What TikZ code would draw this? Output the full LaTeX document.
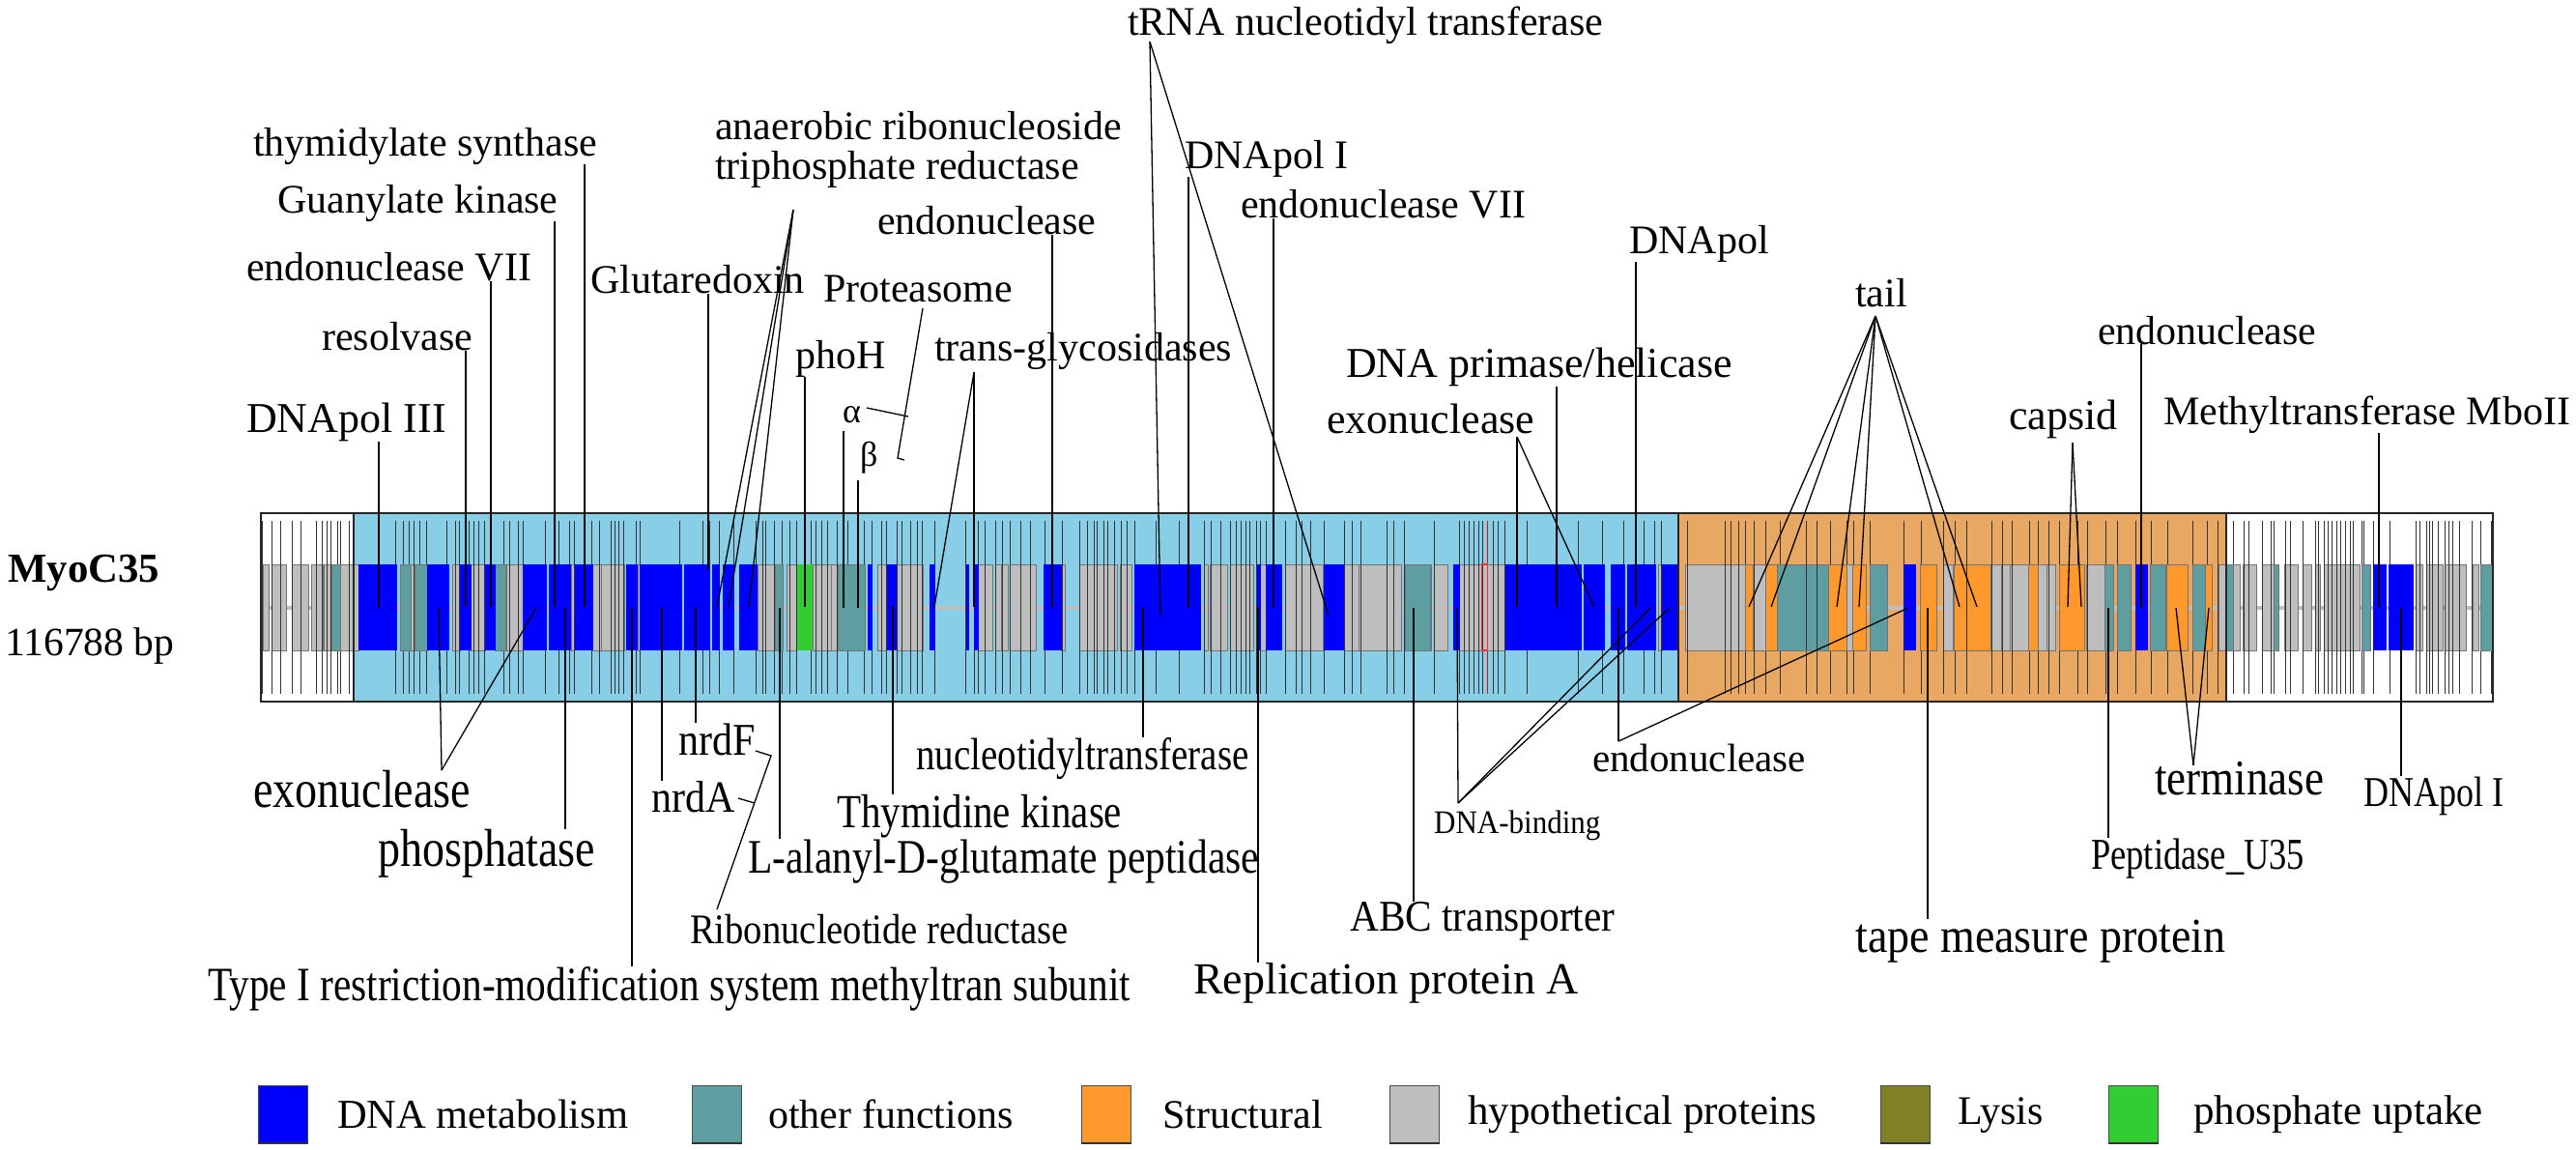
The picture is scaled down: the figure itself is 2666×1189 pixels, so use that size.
\documentclass[tikz,border=0pt]{standalone}
\usepackage{fontspec}
\setmainfont{Liberation Serif}
\definecolor{dnablue}{RGB}{0,0,255}
\definecolor{otherteal}{RGB}{95,158,160}
\definecolor{structorange}{RGB}{255,153,46}
\definecolor{hypogray}{RGB}{190,190,190}
\definecolor{lysisolive}{RGB}{128,128,40}
\definecolor{phosgreen}{RGB}{50,205,50}
\definecolor{earlysky}{RGB}{135,206,230}
\definecolor{lateorange}{RGB}{232,168,100}
\tikzset{
  lab/.style={inner sep=0pt,anchor=base west,font=\fontsize{42}{42}\selectfont},
  leader/.style={black,line width=1.3pt},
  tick/.style={black!80,line width=1pt},
  gene/.style={draw=black!55,line width=0.8pt},
  swatch/.style={draw=black!70,line width=0.8pt,minimum width=51pt,minimum height=59pt,inner sep=0pt,anchor=north west}
}
% #1 name, #2 x, #3 y of the free end
\newcommand{\vlead}[3]{\coordinate (#1end) at (#2,#3); \draw[leader] (#1.south -| #1end) -- (#1end);}
\newcommand{\vleadup}[3]{\coordinate (#1end) at (#2,#3); \draw[leader] (#1.north -| #1end) -- (#1end);}
\newcommand{\tallbox}[2]{\scalebox{1}[#1]{#2}}
\begin{document}
\begin{tikzpicture}[x=1pt,y=-1pt]
\useasboundingbox (0,0) rectangle (2666,1189);
% regions
\fill[earlysky] (366,531) rectangle (1737,726);
\fill[lateorange] (1737,531) rectangle (2304,726);
\fill[hypogray] (270,627) rectangle (2580,631);
% blocks, first stretch
\begin{scope}[xshift=240pt,x=0.3954pt]
  \foreach \a/\b in {82/96,105/143,157/202,208/238,242/262,284/332,440/468,468/480,578/597,626/663,718/762,888/897,945/966,966/1027,1062/1068,1376/1422,1453/1479,1522/1568}
    \fill[hypogray,gene] (\a,584) rectangle (\b,673);
  \foreach \t in {80,105,127,158,181,222,236,250,260,276,284,308,429,449,464,476,493,509,562,586,596,622,634,647,661,713,727,751,763,821,857,885,896,942,963,992,1003,1013,1026,1058,1068,1171,1234,1251,1276,1313,1372,1389,1398,1419,1441,1460,1478,1515,1530,1544,1560}
    \draw[tick] (\t,539) -- (\t,718);
  \foreach \a/\b in {262/284,440/468,480/512,690/716,1422/1443}
    \fill[otherteal,gene] (\a,584) rectangle (\b,673);
  \foreach \a/\b in {332/432,512/570,597/626,663/690,762/824,830/888,897/945,1033/1062,1068/1178,1184/1252,1256/1276,1284/1315,1329/1376}
    \fill[dnablue] (\a,584) rectangle (\b,673);
  \fill[phosgreen] (1479,584) rectangle (1520,673);
\end{scope}
% second stretch
\begin{scope}[xshift=860pt,x=0.3954pt]
  \foreach \a/\b in {0/18,122/146,172/240,386/424,430/445,448/465,470/538,604/614,652/750,758/788,978/988,992/1038,1045/1107,1125/1138,1190/1288,1345/1383,1383/1494}
    \fill[hypogray,gene] (\a,584) rectangle (\b,673);
  \foreach \t in {16,44,86,108,133,145,173,186,208,226,240,272,354,375,386,404,431,450,470,497,521,560,606,651,671,689,696,714,724,741,759,775,796,850,911,978,995,1021,1045,1061,1073,1085,1097,1115,1123,1140,1191,1218,1233,1255,1292,1345,1364,1387,1455,1474,1502}
    \draw[tick] (\t,539) -- (\t,718);
  \foreach \a/\b in {18/90,1502/1568}
    \fill[otherteal,gene] (\a,584) rectangle (\b,673);
  \foreach \a/\b in {96/108,146/172,259/272,354/362,374/386,556/604,795/968,1115/1125,1138/1180,1290/1342}
    \fill[dnablue] (\a,584) rectangle (\b,673);
\end{scope}
% third stretch
\begin{scope}[xshift=1480pt,x=0.3954pt]
  \foreach \a/\b in {10/47,78/196,597/608,668/772,772/825,845/878,1090/1107,1344/1368}
    \fill[hypogray,gene] (\a,584) rectangle (\b,673);
  \foreach \t in {12,77,90,102,115,127,137,165,179,195,254,387,452,506,560,589,606,673,773,787,808,826,848,880,916,985,1013,1047,1090,1108,1153,1241,1287,1345,1375,1404}
    \draw[tick] (\t,539) -- (\t,718);
  \foreach \a/\b in {0/4,910/1043,1152/1197}
    \fill[otherteal,gene] (\a,584) rectangle (\b,673);
  \foreach \a/\b in {825/845,878/908,1043/1090,1107/1141,1284/1325,1372/1468}
    \fill[structorange,gene] (\a,584) rectangle (\b,673);
  \foreach \a/\b in {60/78,196/396,402/458,472/510,515/592,608/650,1240/1272}
    \fill[dnablue] (\a,584) rectangle (\b,673);
  \foreach \t in {985,1013,1404}
    \draw[tick] (\t,584) -- (\t,673);
  \draw[red,line width=1.4pt] (150,539) -- (150,718);
  \draw[red!80!white,line width=1.2pt] (135,584) rectangle (150,673);
\end{scope}
% last stretch
\begin{scope}[xshift=2060pt,x=0.3511pt]
  \foreach \a/\b in {0/32,32/58,58/113,140/167,167/193,282/338,672/696,715/737,745/783,800/835,868/907,920/946,957/972,985/1088,1253/1275,1285/1333,1340/1402,1422/1440}
    \fill[hypogray,gene] (\a,584) rectangle (\b,673);
  \foreach \t in {3,35,63,114,142,173,203,259,285,339,375,429,475,523,598,638,672,717,747,761,801,827,836,869,884,922,957,967,984,995,1008,1020,1033,1048,1060,1070,1095,1102,1128,1177,1254,1265,1286,1295,1303,1319,1339,1350,1364,1382,1421,1446,1476}
    \draw[tick] (\t,539) -- (\t,718);
  \foreach \a/\b in {338/362,373/415,472/516,595/632,696/715,835/851,1095/1120,1444/1480}
    \fill[otherteal,gene] (\a,584) rectangle (\b,673);
  \foreach \a/\b in {113/140,202/278,520/582,632/652}
    \fill[structorange,gene] (\a,584) rectangle (\b,673);
  \foreach \a/\b in {428/464,1127/1168,1174/1246}
    \fill[dnablue] (\a,584) rectangle (\b,673);
\end{scope}
\draw[black!85,line width=2pt] (270,531) rectangle (2580,726);
\draw[black!85,line width=2pt] (366,531) -- (366,726) (1737,531) -- (1737,726) (2304,531) -- (2304,726);
% labels above
\node[lab,font=\fontsize{44}{44}\selectfont] (dnapolthree) at (255,447) {DNApol III};
\node[lab] (resolvase) at (333,362) {resolvase};
\node[lab] (endosevenA) at (255,290) {endonuclease VII};
\node[lab] (guanylate) at (287,220) {Guanylate kinase};
\node[lab] (thymsyn) at (262,161) {thymidylate synthase};
\node[lab] (glutaredoxin) at (611,303) {Glutaredoxin};
\node[lab] (anaerobicA) at (740,144) {anaerobic ribonucleoside};
\node[lab] (anaerobicB) at (740,185) {triphosphate reductase};
\node[lab] (proteasome) at (852,312) {Proteasome};
\node[lab] (phoh) at (823,381) {phoH};
\node[lab,font=\fontsize{36}{36}\selectfont] (alpha) at (872,437) {α};
\node[lab,font=\fontsize{36}{36}\selectfont] (beta) at (890,482) {β};
\node[lab] (transgly) at (967,373) {trans-glycosidases};
\node[lab] (endoA) at (908,242) {endonuclease};
\node[lab] (trna) at (1167,36) {tRNA nucleotidyl transferase};
\node[lab] (dnapolone) at (1226,174) {DNApol I};
\node[lab] (endosevenB) at (1284,225) {endonuclease VII};
\node[lab] (dnapol) at (1686,262) {DNApol};
\node[lab,font=\fontsize{44}{44}\selectfont] (primase) at (1393,390) {DNA primase/helicase};
\node[lab,font=\fontsize{44}{44}\selectfont] (exoA) at (1373,448) {exonuclease};
\node[lab] (tail) at (1920,317) {tail};
\node[lab] (endoB) at (2171,356) {endonuclease};
\node[lab,font=\fontsize{44}{44}\selectfont] (capsid) at (2079,444) {capsid};
\node[lab] (mboii) at (2239,439) {Methyltransferase MboII};
% labels below
\node[lab,font=\fontsize{46}{46}\selectfont] (exoB) at (262,835) {\tallbox{1.2}{exonuclease}};
\node[lab,font=\fontsize{46}{46}\selectfont] (phosphatase) at (391,896) {\tallbox{1.2}{phosphatase}};
\node[lab,font=\fontsize{41.3}{42}\selectfont] (typeone) at (215,1035) {\tallbox{1.2}{Type I restriction-modification system methyltran subunit}};
\node[lab] (nrdf) at (702,781) {\tallbox{1.12}{nrdF}};
\node[lab] (nrda) at (674,840) {\tallbox{1.1}{nrdA}};
\node[lab,font=\fontsize{39}{39}\selectfont] (nucleotidyl) at (948,796) {\tallbox{1.2}{nucleotidyltransferase}};
\node[lab,font=\fontsize{41}{41}\selectfont] (thymkinase) at (866,856) {\tallbox{1.2}{Thymidine kinase}};
\node[lab,font=\fontsize{41.5}{42}\selectfont] (alanyl) at (774,903) {\tallbox{1.2}{L-alanyl-D-glutamate peptidase}};
\node[lab,font=\fontsize{38.6}{39}\selectfont] (ribonuc) at (714,976) {\tallbox{1.13}{Ribonucleotide reductase}};
\node[lab,font=\fontsize{46}{46}\selectfont] (replication) at (1235,1028) {Replication protein A};
\node[lab,font=\fontsize{41.3}{41}\selectfont] (abc) at (1397,963) {\tallbox{1.1}{ABC transporter}};
\node[lab,font=\fontsize{31}{31}\selectfont] (dnabinding) at (1484,862) {\tallbox{1.1}{DNA-binding}};
\node[lab,font=\fontsize{41}{41}\selectfont] (endoC) at (1648,798) {endonuclease};
\node[lab,font=\fontsize{46}{46}\selectfont] (tape) at (1920,985) {\tallbox{1.1}{tape measure protein}};
\node[lab,font=\fontsize{36.5}{37}\selectfont] (peptidase) at (2164,899) {\tallbox{1.25}{Peptidase\_U35}};
\node[lab,font=\fontsize{45}{45}\selectfont] (terminase) at (2230,822) {\tallbox{1.15}{terminase}};
\node[lab,font=\fontsize{36}{36}\selectfont] (dnapolfoot) at (2446,834) {\tallbox{1.22}{DNApol I}};
% genome name
\node[lab,font=\fontsize{42.8}{43}\selectfont\bfseries] (myoname) at (8,602) {MyoC35};
\node[lab,font=\fontsize{41.6}{42}\selectfont] (myosize) at (5,678) {116788 bp};
% leaders from above
\vlead{dnapolthree}{392}{629}
\vlead{resolvase}{482}{628}
\vlead{endosevenA}{508}{628}
\vlead{guanylate}{574}{628}
\vlead{thymsyn}{605}{628}
\vlead{glutaredoxin}{733}{590}
\vlead{phoh}{833}{628}
\vlead{endoA}{1089}{629}
\vlead{dnapolone}{1230}{629}
\vlead{endosevenB}{1318}{629}
\vlead{primase}{1611}{628}
\vlead{dnapol}{1693}{628}
\vlead{mboii}{2462}{628}
\coordinate (endoBtop) at (2216,356);
\coordinate (endoBend) at (2216,629);
\draw[leader] (endoBtop) -- (endoBend);
\coordinate (alphaA) at (897,422);
\coordinate (alphaB) at (940,431);
\coordinate (betaA) at (929,474);
\coordinate (betaB) at (936,476);
\coordinate (protTip) at (955,319);
\draw[leader] (alphaA) -- (alphaB);
\draw[leader] (protTip) -- (betaA) -- (betaB);
\coordinate (alphaEnd) at (873,629);
\coordinate (betaEnd) at (888,629);
\draw[leader] (873,446) -- (alphaEnd);
\draw[leader] (888,497) -- (betaEnd);
\coordinate (anaerobicTip) at (821,217);
\foreach \x in {742,754,775}
  \draw[leader] (anaerobicTip) -- (\x,628);
\coordinate (transTip) at (1008,385);
\foreach \x in {967,1008}
  \draw[leader] (transTip) -- (\x,628);
\coordinate (trnaTip) at (1190,43);
\foreach \x in {1201,1375}
  \draw[leader] (trnaTip) -- (\x,637);
\coordinate (exoATip) at (1570,452);
\foreach \x in {1570,1650}
  \draw[leader] (exoATip) -- (\x,628);
\coordinate (tailTip) at (1941,327);
\foreach \x in {1810,1833,1901,1924,2028,2046}
  \draw[leader] (tailTip) -- (\x,628);
\coordinate (capsidTip) at (2145,458);
\foreach \x in {2140,2154}
  \draw[leader] (capsidTip) -- (\x,628);
% leaders from below
\vleadup{phosphatase}{585}{629}
\vleadup{typeone}{654}{629}
\vleadup{nrda}{685}{629}
\vleadup{nrdf}{720}{629}
\vleadup{alanyl}{807}{629}
\vleadup{thymkinase}{924}{627}
\vleadup{nucleotidyl}{1183}{629}
\vleadup{replication}{1302}{629}
\vleadup{abc}{1463}{629}
\vleadup{tape}{1995}{629}
\vleadup{peptidase}{2182}{629}
\vleadup{dnapolfoot}{2485}{629}
\coordinate (exoBTip) at (457,797);
\foreach \x in {454,555}
  \draw[leader] (exoBTip) -- (\x,629);
\coordinate (bindTip) at (1509,831);
\foreach \x in {1508,1708,1728}
  \draw[leader] (bindTip) -- (\x,629);
\coordinate (endoCTip) at (1675,767);
\foreach \x in {1675,1975}
  \draw[leader] (endoCTip) -- (\x,629);
\coordinate (termTip) at (2270,792);
\foreach \x in {2252,2286}
  \draw[leader] (termTip) -- (\x,629);
\coordinate (ribTip) at (742,941);
\coordinate (ribKnee) at (798,782);
\coordinate (nrdfTick) at (782,777);
\draw[leader] (ribTip) -- (ribKnee) -- (nrdfTick);
\coordinate (nrdaTickA) at (764,826);
\coordinate (nrdaTickB) at (781,831);
\draw[leader] (nrdaTickA) -- (nrdaTickB);
% legend
\node[swatch,fill=dnablue] (keydna) at (267,1123) {};
\node[lab,font=\fontsize{42.5}{43}\selectfont] (keydnatext) at (349,1167) {DNA metabolism};
\node[swatch,fill=otherteal] (keyother) at (716,1123) {};
\node[lab] (keyothertext) at (795,1167) {other functions};
\node[swatch,fill=structorange] (keystruct) at (1119,1123) {};
\node[lab] (keystructtext) at (1203,1167) {Structural};
\node[swatch,fill=hypogray] (keyhypo) at (1438,1123) {};
\node[lab,font=\fontsize{42.9}{43}\selectfont] (keyhypotext) at (1519,1163) {hypothetical proteins};
\node[swatch,fill=lysisolive] (keylysis) at (1946,1123) {};
\node[lab] (keylysistext) at (2026,1163) {Lysis};
\node[swatch,fill=phosgreen] (keyphos) at (2182,1123) {};
\node[lab,font=\fontsize{43}{43}\selectfont] (keyphostext) at (2270,1163) {phosphate uptake};
\foreach \k in {keydna,keyother,keystruct,keyhypo,keylysis,keyphos}
  \draw[black!80,line width=2.5pt] (\k.south west) -- (\k.south east);
\end{tikzpicture}
\end{document}
